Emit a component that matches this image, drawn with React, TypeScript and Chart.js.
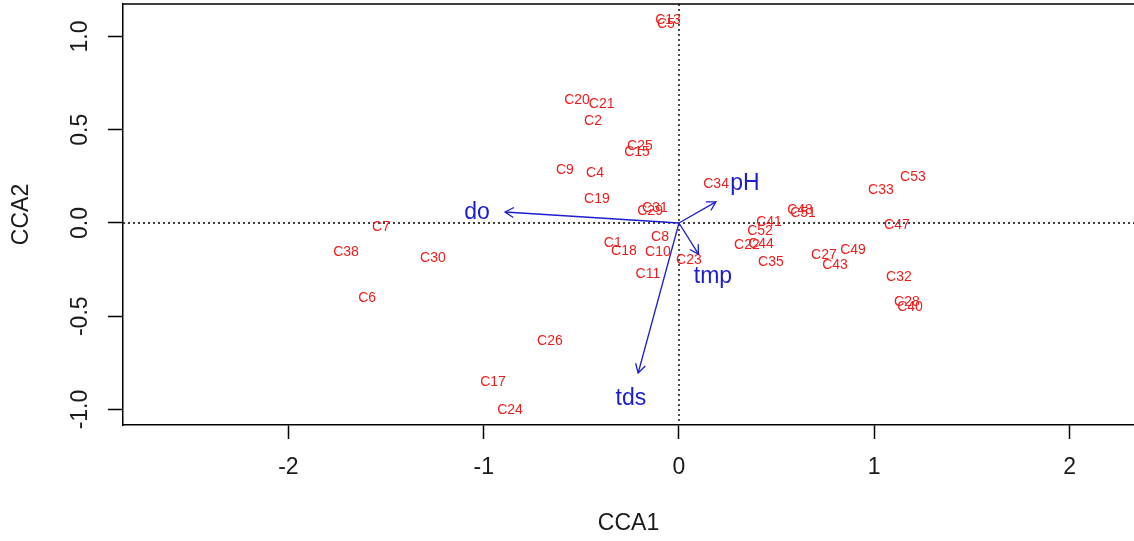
import { useEffect, useRef } from "react";
import { Chart, registerables } from "chart.js";

Chart.register(...registerables);

// Site scores on the first two constrained axes
const SITE_NAMES = [
  "C1", "C2", "C4", "C5", "C6", "C7", "C8", "C9", "C10", "C11",
  "C13", "C15", "C17", "C18", "C19", "C20", "C21", "C22", "C23", "C24",
  "C25", "C26", "C27", "C28", "C29", "C30", "C31", "C32", "C33", "C34",
  "C35", "C38", "C40", "C41", "C43", "C44", "C47", "C48", "C49", "C51",
  "C52", "C53",
];
const SITE_CCA1 = [
  -0.339, -0.44, -0.43, -0.067, -1.597, -1.526, -0.097, -0.584, -0.108, -0.159,
  -0.056, -0.215, -0.952, -0.282, -0.42, -0.522, -0.396, 0.348, 0.051, -0.865,
  -0.2, -0.661, 0.742, 1.167, -0.148, -1.26, -0.123, 1.126, 1.034, 0.19,
  0.471, -1.705, 1.183, 0.461, 0.799, 0.42, 1.116, 0.62, 0.891, 0.635,
  0.415, 1.198,
];
const SITE_CCA2 = [
  -0.107, 0.547, 0.268, 1.067, -0.402, -0.021, -0.075, 0.284, -0.154, -0.273,
  1.088, 0.381, -0.853, -0.15, 0.129, 0.66, 0.638, -0.118, -0.198, -1.003,
  0.413, -0.633, -0.172, -0.424, 0.064, -0.188, 0.08, -0.29, 0.177, 0.209,
  -0.209, -0.155, -0.45, 0.005, -0.225, -0.113, -0.011, 0.07, -0.145, 0.054,
  -0.043, 0.247,
];

// Environmental variable biplot arrows
const ENV_NAMES = ["do", "pH", "tmp", "tds"];
const ENV_CCA1 = [-0.891, 0.189, 0.1, -0.209];
const ENV_CCA2 = [0.059, 0.113, -0.167, -0.804];
const ENV_LABEL_CCA1 = [-1.034, 0.338, 0.174, -0.246];
const ENV_LABEL_CCA2 = [0.054, 0.209, -0.29, -0.944];

const X_TICKS = [-2, -1, 0, 1, 2];
const Y_TICKS = [-1, -0.5, 0, 0.5, 1];
const X_RANGE = [-2.847, 2.33];
const Y_RANGE = [-1.083, 1.174];

const FONT = "'Liberation Sans', Arial, sans-serif";
const SITE_COLOR = "#ee1d1d";
const ENV_COLOR = "#1c1cd0";
const AXIS_TEXT = "#1a1a1a";

const overlayPlugin = {
  id: "ccaOverlay",
  beforeDatasetsDraw(chart: any) {
    const { ctx, chartArea, scales } = chart;
    const x0 = scales.x.getPixelForValue(0);
    const y0 = scales.y.getPixelForValue(0);
    ctx.save();
    ctx.strokeStyle = "#000";
    ctx.lineWidth = 1.4;
    ctx.setLineDash([2, 3]);
    ctx.beginPath();
    ctx.moveTo(x0, chartArea.top);
    ctx.lineTo(x0, chartArea.bottom);
    ctx.moveTo(chartArea.left, y0);
    ctx.lineTo(chartArea.right, y0);
    ctx.stroke();
    ctx.restore();
  },
  afterDatasetsDraw(chart: any) {
    const { ctx } = chart;
    ctx.save();
    // site names
    const siteMeta = chart.getDatasetMeta(0);
    ctx.fillStyle = SITE_COLOR;
    ctx.font = `14px ${FONT}`;
    ctx.textAlign = "center";
    ctx.textBaseline = "middle";
    siteMeta.data.forEach((pt: any, i: number) => {
      ctx.fillText(SITE_NAMES[i], pt.x, pt.y);
    });
    // arrow heads
    ctx.strokeStyle = ENV_COLOR;
    ctx.lineWidth = 1.3;
    for (let i = 0; i < ENV_NAMES.length; i++) {
      const meta = chart.getDatasetMeta(1 + i);
      const a = meta.data[0];
      const b = meta.data[1];
      const ang = Math.atan2(b.y - a.y, b.x - a.x);
      const len = 10;
      ctx.beginPath();
      ctx.moveTo(b.x - len * Math.cos(ang - Math.PI / 6), b.y - len * Math.sin(ang - Math.PI / 6));
      ctx.lineTo(b.x, b.y);
      ctx.lineTo(b.x - len * Math.cos(ang + Math.PI / 6), b.y - len * Math.sin(ang + Math.PI / 6));
      ctx.stroke();
    }
    // variable names
    const labelMeta = chart.getDatasetMeta(1 + ENV_NAMES.length);
    ctx.fillStyle = ENV_COLOR;
    ctx.font = `23px ${FONT}`;
    labelMeta.data.forEach((pt: any, i: number) => {
      ctx.fillText(ENV_NAMES[i], pt.x, pt.y);
    });
    ctx.restore();
  },
  afterDraw(chart: any) {
    const { ctx, chartArea, scales } = chart;
    ctx.save();
    // top edge of the plot box
    ctx.strokeStyle = "#000";
    ctx.lineWidth = 1.5;
    ctx.beginPath();
    ctx.moveTo(chartArea.left, chartArea.top);
    ctx.lineTo(chartArea.right, chartArea.top);
    ctx.stroke();
    // rotated y tick labels
    ctx.fillStyle = AXIS_TEXT;
    ctx.font = `23px ${FONT}`;
    ctx.textAlign = "center";
    ctx.textBaseline = "middle";
    scales.y.ticks.forEach((t: any) => {
      const py = scales.y.getPixelForValue(t.value);
      ctx.save();
      ctx.translate(81, py);
      ctx.rotate(-Math.PI / 2);
      ctx.fillText(t.value.toFixed(1), 0, 0);
      ctx.restore();
    });
    ctx.restore();
  },
};

export default function App() {
  const canvasRef = useRef<HTMLCanvasElement | null>(null);

  useEffect(() => {
    const canvas = canvasRef.current;
    if (!canvas) return;

    const siteData = SITE_NAMES.map((_, i) => ({ x: SITE_CCA1[i], y: SITE_CCA2[i] }));
    const arrowSets = ENV_NAMES.map((name, i) => ({
      label: name,
      data: [
        { x: 0, y: 0 },
        { x: ENV_CCA1[i], y: ENV_CCA2[i] },
      ],
      showLine: true,
      borderColor: ENV_COLOR,
      borderWidth: 1.3,
      pointRadius: 0,
      fill: false,
    }));
    const envLabelData = ENV_NAMES.map((_, i) => ({ x: ENV_LABEL_CCA1[i], y: ENV_LABEL_CCA2[i] }));

    const chart = new Chart(canvas, {
      type: "scatter",
      data: {
        datasets: [
          { label: "sites", data: siteData, pointRadius: 0 },
          ...arrowSets,
          { label: "variables", data: envLabelData, pointRadius: 0 },
        ],
      },
      options: {
        animation: false,
        responsive: false,
        devicePixelRatio: 1,
        events: [],
        layout: { padding: { top: 4, right: 0, left: 0, bottom: 0 } },
        plugins: { legend: { display: false }, tooltip: { enabled: false } },
        scales: {
          x: {
            type: "linear",
            min: X_RANGE[0],
            max: X_RANGE[1],
            afterBuildTicks: (s: any) => {
              s.ticks = X_TICKS.map((v) => ({ value: v }));
            },
            afterFit: (s: any) => {
              s.height = 116;
            },
            ticks: {
              font: { family: FONT, size: 23 },
              color: AXIS_TEXT,
              padding: 15,
              maxRotation: 0,
              callback: (v: any) => String(v),
            },
            grid: {
              drawOnChartArea: false,
              drawTicks: true,
              tickLength: 14,
              tickWidth: 1.5,
              tickColor: "#000",
            },
            border: { display: true, color: "#000", width: 1.5 },
            title: {
              display: true,
              text: "CCA1",
              font: { family: FONT, size: 23 },
              color: AXIS_TEXT,
              padding: { top: 4, bottom: 4 },
            },
          },
          y: {
            type: "linear",
            min: Y_RANGE[0],
            max: Y_RANGE[1],
            afterBuildTicks: (s: any) => {
              s.ticks = Y_TICKS.map((v) => ({ value: v }));
            },
            afterFit: (s: any) => {
              s.width = 123;
            },
            ticks: { display: false },
            grid: {
              drawOnChartArea: false,
              drawTicks: true,
              tickLength: 15,
              tickWidth: 1.5,
              tickColor: "#000",
            },
            border: { display: true, color: "#000", width: 1.5 },
            title: {
              display: true,
              text: "CCA2",
              font: { family: FONT, size: 23 },
              color: AXIS_TEXT,
              padding: { top: 8, bottom: 4 },
            },
          },
        },
      },
      plugins: [overlayPlugin],
    } as any);

    return () => chart.destroy();
  }, []);

  return (
    <div style={{ position: "absolute", left: 0, top: 0, width: 1134, height: 541, background: "#fff" }}>
      <canvas ref={canvasRef} width={1134} height={541} style={{ display: "block" }} />
    </div>
  );
}
